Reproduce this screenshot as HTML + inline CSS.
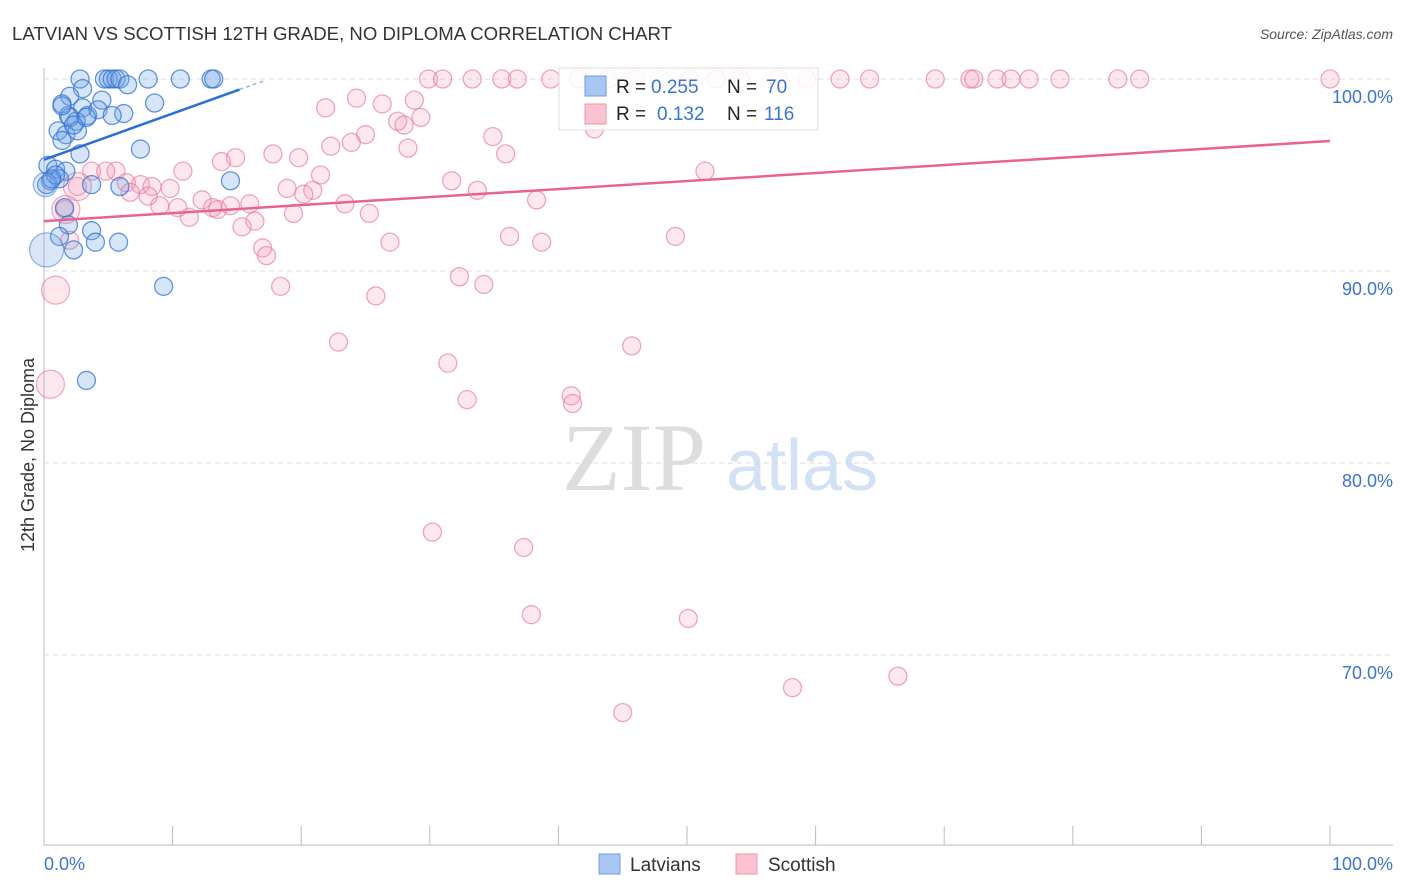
<!DOCTYPE html>
<html><head><meta charset="utf-8">
<style>
body{margin:0;background:#fff;font-family:"Liberation Sans",sans-serif;}
#wrap{position:relative;width:1406px;height:892px;overflow:hidden;}
</style></head>
<body>
<div id="wrap">
<svg id="chart" width="1406" height="892" xmlns="http://www.w3.org/2000/svg">
  <text x="12" y="40" font-size="18.5" fill="#333" textLength="660" lengthAdjust="spacingAndGlyphs">LATVIAN VS SCOTTISH 12TH GRADE, NO DIPLOMA CORRELATION CHART</text>
  <text x="1393" y="39" font-size="14" fill="#555" font-style="italic" text-anchor="end">Source: ZipAtlas.com</text>
  <text x="634" y="490" font-size="96" fill="#ddd" font-family="Liberation Serif,serif" text-anchor="middle">ZIP</text>
  <text x="802" y="490" font-size="72" fill="#d3e1f5" text-anchor="middle">atlas</text>
  <text transform="translate(34,455) rotate(-90)" font-size="18" fill="#333" text-anchor="middle">12th Grade, No Diploma</text>
  <g id="grid"></g>
  <g id="pts"></g>
  <g id="lines"></g>
  <g id="legend">
    <rect x="559" y="68" width="259" height="62" fill="#fff" fill-opacity="0.85" stroke="#ddd"/>
    <rect x="585" y="76" width="21" height="20" fill="#a9c6f2" stroke="#6d9de0"/>
    <rect x="585" y="104" width="21" height="20" fill="#fbc3d2" stroke="#ef95b0"/>
    <g font-size="19">
      <text x="616" y="93" fill="#222">R =</text><text x="651" y="93" fill="#3a74d0">0.255</text>
      <text x="727" y="93" fill="#222">N =</text><text x="766" y="93" fill="#3a74d0">70</text>
    </g>
    <g font-size="19">
      <text x="616" y="120" fill="#222">R =</text><text x="657" y="120" fill="#3a74d0">0.132</text>
      <text x="727" y="120" fill="#222">N =</text><text x="764" y="120" fill="#3a74d0">116</text>
    </g>
  </g>
  <g>
    <rect x="599" y="854" width="21" height="20" fill="#a9c6f2" stroke="#6d9de0"/>
    <text x="630" y="871" font-size="19" fill="#333">Latvians</text>
    <rect x="736" y="854" width="21" height="20" fill="#fbc3d2" stroke="#ef95b0"/>
    <text x="768" y="871" font-size="19" fill="#333">Scottish</text>
  </g>
</svg>
</div>
<script>
const yTicks=[100,90,80,70];
const yTickLabels=["100.0%","90.0%","80.0%","70.0%"];
const xTicks=[0,10,20,30,40,50,60,70,80,90,100];
const xEndLabels=["0.0%","100.0%"];
const blueX=[2.8,4.7,5.0,5.3,5.6,5.9,8.1,10.6,13.0,13.2,6.5,3.0,2.0,1.4,4.5,8.6,3.0,1.9,3.4,6.2,4.2,5.3,2.5,1.1,1.7,1.4,2.6,7.5,2.8,0.3,0.9,1.7,0.5,1.2,3.7,5.9,14.5,1.6,1.9,1.2,3.7,4.0,5.8,2.3,9.3,3.3,0.2,0.9,2.0,1.4,2.3,3.3,0.6];
const blueY=[100,100,100,100,100,100,100,100,100,100,99.7,99.5,99.1,98.7,98.9,98.75,98.5,98.1,98.1,98.2,98.4,98.1,97.8,97.3,97.1,96.8,97.3,96.35,96.1,95.5,95.3,95.2,94.7,94.8,94.5,94.4,94.7,93.3,92.4,91.8,92.1,91.5,91.5,91.1,89.2,84.3,94.5,95.0,98.0,98.6,97.6,98.0,94.8];
const blueBigX=[0.2,0.1];
const blueBigY=[91.1,94.5];
const blueBigR=[17,12];
const pinkX=[29.9,31.0,33.3,35.6,36.8,39.4,41.6,43.9,46.0,47.9,50.2,52.3,54.1,57.1,59.3,61.9,64.2,69.3,72.0,72.3,74.1,75.2,76.6,79.0,83.5,85.2,100,
21.9,24.3,26.3,28.8,27.5,29.3,28.0,25.0,23.9,22.3,28.3,34.9,35.9,42.8,51.4,13.8,14.9,17.8,19.8,10.8,5.6,4.8,3.7,6.4,7.5,8.4,9.8,6.7,8.1,9.0,10.4,11.3,12.3,13.1,13.5,14.5,16.0,15.4,16.4,18.9,19.4,20.9,21.5,20.2,23.4,25.3,26.9,31.7,33.7,38.3,36.2,38.7,49.1,17.0,17.3,18.4,25.8,32.3,34.2,22.9,31.4,45.7,32.9,41.0,41.1,30.2,37.3,37.9,50.1,58.2,66.4,45.0,1.6,2.0,2.6];
const pinkY=[100,100,100,100,100,100,100,100,100,100,100,100,100,100,100,100,100,100,100,100,100,100,100,100,100,100,100,
98.5,99.0,98.7,98.9,97.8,98.0,97.6,97.1,96.7,96.5,96.4,97.0,96.1,97.4,95.2,95.7,95.9,96.1,95.9,95.2,95.2,95.2,95.2,94.6,94.5,94.4,94.3,94.1,93.9,93.4,93.3,92.8,93.7,93.3,93.2,93.4,93.5,92.3,92.6,94.3,93.0,94.2,95.0,94.0,93.5,93.0,91.5,94.7,94.2,93.7,91.8,91.5,91.8,91.2,90.8,89.2,88.7,89.7,89.3,86.3,85.2,86.1,83.3,83.5,83.1,76.4,75.6,72.1,71.9,68.3,68.9,67.0,93.2,91.6,94.4];
const pinkBigX=[0.9,0.5,1.7,2.6];
const pinkBigY=[89.0,84.1,93.2,94.4];
const blueLine=[0,95.8,15.2,99.45];
const blueLineDash=[15.2,99.45,17.1,99.9];
const pinkLine=[0,92.6,100,96.77];

const X0=44,X1=1330,Y100=79,PXPER=19.2;
const sx=v=>X0+(X1-X0)*v/100;
const sy=v=>Y100+(100-v)*PXPER;
const NS="http://www.w3.org/2000/svg";
function mk(tag,attrs,parent){const e=document.createElementNS(NS,tag);for(const k in attrs)e.setAttribute(k,attrs[k]);parent.appendChild(e);return e;}
const grid=document.getElementById('grid');
const axis=mk('line',{x1:44,y1:68,x2:44,y2:845,stroke:'#bbb'},grid);


const xaxis=mk('line',{x1:44,y1:845,x2:1393,y2:845,stroke:'#bbb'},grid);


yTicks.forEach((t,i)=>{
  const g=mk('line',{x1:44,x2:1393,y1:sy(t),y2:sy(t),stroke:'#ddd','stroke-dasharray':'5,4'},grid);
  
  
  const tx=mk('text',{x:1393,y:sy(t)+24,'font-size':18,fill:'#3a74d0','text-anchor':'end'},grid);
  tx.textContent=yTickLabels[i];
  
  
});
xTicks.forEach(t=>{
  const l=mk('line',{x1:sx(t),x2:sx(t),y1:826,y2:845,stroke:'#bbb'},grid);
  
  
});
const xl0=mk('text',{x:44,y:870,'font-size':18,fill:'#3a74d0'},grid);xl0.textContent=xEndLabels[0];


const xl1=mk('text',{x:1393,y:870,'font-size':18,fill:'#3a74d0','text-anchor':'end'},grid);xl1.textContent=xEndLabels[1];



const pts=document.getElementById('pts');
function dots(xs,ys,r,fill,stroke,name){
  xs.forEach((x,i)=>{
    const rr=Array.isArray(r)?r[i]:r;
    const c=mk('circle',{cx:sx(x),cy:sy(ys[i]),r:rr,fill:fill,stroke:stroke,'stroke-width':1.3},pts);
    
    
  });
}
dots(pinkX,pinkY,9,'rgba(244,150,178,0.22)','rgba(232,120,158,0.65)','scottish-point');
dots(pinkBigX,pinkBigY,14,'rgba(244,150,178,0.22)','rgba(232,120,158,0.6)','scottish-point-large');
dots(blueX,blueY,9,'rgba(110,160,230,0.28)','rgba(50,115,210,0.75)','latvian-point');
dots(blueBigX,blueBigY,blueBigR,'rgba(110,160,230,0.25)','rgba(50,115,210,0.5)','latvian-point-large');

const lines=document.getElementById('lines');
const bl=mk('line',{x1:sx(blueLine[0]),y1:sy(blueLine[1]),x2:sx(blueLine[2]),y2:sy(blueLine[3]),stroke:'#2a6fd6','stroke-width':2.5},lines);


const bd=mk('line',{x1:sx(blueLineDash[0]),y1:sy(blueLineDash[1]),x2:sx(blueLineDash[2]),y2:sy(blueLineDash[3]),stroke:'#8fb3ea','stroke-width':1.5,'stroke-dasharray':'4,3'},lines);


const pl=mk('line',{x1:sx(pinkLine[0]),y1:sy(pinkLine[1]),x2:sx(pinkLine[2]),y2:sy(pinkLine[3]),stroke:'#e8648e','stroke-width':2.5},lines);


</script>
</body></html>
